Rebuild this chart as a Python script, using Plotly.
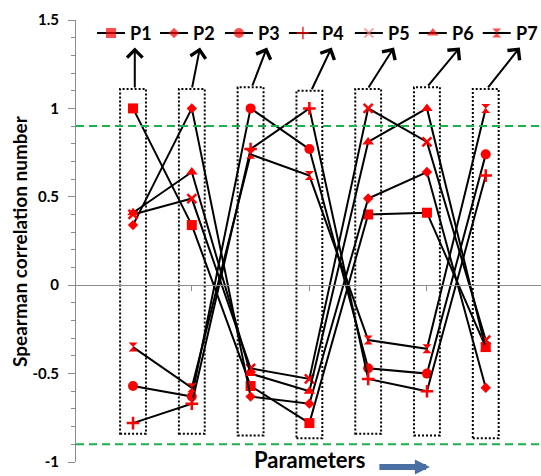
import plotly.graph_objects as go

# Parameter names and their positions on the horizontal axis
params = ["P1", "P2", "P3", "P4", "P5", "P6", "P7"]
positions = [1, 2, 3, 4, 5, 6, 7]

# Spearman correlation of each parameter with P1..P7
P1 = [1.00, 0.34, -0.57, -0.78, 0.40, 0.41, -0.35]
P2 = [0.34, 1.00, -0.63, -0.67, 0.49, 0.64, -0.58]
P3 = [-0.57, -0.63, 1.00, 0.77, -0.47, -0.50, 0.74]
P4 = [-0.78, -0.67, 0.77, 1.00, -0.53, -0.60, 0.62]
P5 = [0.40, 0.49, -0.47, -0.53, 1.00, 0.81, -0.31]
P6 = [0.41, 0.64, -0.50, -0.60, 0.81, 1.00, -0.36]
P7 = [-0.35, -0.58, 0.74, 0.62, -0.31, -0.36, 1.00]
series = [P1, P2, P3, P4, P5, P6, P7]

# Significance threshold lines
threshold = [0.9, -0.9]

# Y-axis ticks
y_tickvals = [-1, -0.5, 0, 0.5, 1, 1.5]
y_ticktext = ["-1", "-0.5", "0", "0.5", "1", "1.5"]

symbols = ["square", "diamond", "circle", "cross-thin", "x-thin", "triangle-up", "hourglass"]
sizes = [10, 8, 10, 9, 9, 10, 9]
RED = "#ff0000"

fig = go.Figure()
for name, vals, sym, sz in zip(params, series, symbols, sizes):
    thin = sym.endswith("-thin")
    fig.add_trace(go.Scatter(
        x=positions, y=vals, name=name, mode="lines+markers", showlegend=False,
        line=dict(color="black", width=2),
        marker=dict(symbol=sym, size=sz, color=RED,
                    line=dict(color=RED, width=2.5 if thin else 0)),
    ))

# Key row along the top: short line with the series marker, then the name
key_y = 1.4265
key_start = [0.388, 1.459, 2.564, 3.652, 4.774, 5.862, 6.949]   # left end of each key line
key_len = 0.476
key_gap = 0.05
annotations = []
for name, x0, sym, sz in zip(params, key_start, symbols, sizes):
    thin = sym.endswith("-thin")
    col = "#ff7a7a" if sym == "x-thin" else RED
    fig.add_trace(go.Scatter(
        x=[x0, x0 + key_len / 2, x0 + key_len], y=[key_y] * 3, mode="lines+markers",
        showlegend=False, hoverinfo="skip",
        line=dict(color="black", width=2),
        marker=dict(symbol=sym, size=[0, sz, 0], color=col,
                    line=dict(color=col, width=1.8 if thin else 0)),
    ))
    annotations.append(dict(x=x0 + key_len + key_gap, y=key_y, xref="x", yref="y",
                            text=f"<b>{name}</b>", showarrow=False, xanchor="left",
                            yanchor="middle", font=dict(size=18, color="black")))

shapes = []
# Dashed threshold lines
for t in threshold:
    shapes.append(dict(type="line", xref="paper", x0=0, x1=1, yref="y", y0=t, y1=t,
                       line=dict(color="#1db04b", width=2, dash="8px,5px")))

# Dotted frame around every parameter column
box_top = [1.11, 1.11, 1.12, 1.10, 1.11, 1.12, 1.11]
box_bot = [-0.84, -0.84, -0.85, -0.865, -0.84, -0.85, -0.865]
for p, top, bot in zip(positions, box_top, box_bot):
    shapes.append(dict(type="rect", xref="x", yref="y", x0=p - 0.22, x1=p + 0.22,
                       y0=bot, y1=top, line=dict(color="black", width=2, dash="2px,2px"),
                       fillcolor="rgba(0,0,0,0)", layer="below"))

# Arrows linking each column frame to its key label
arrow_tip_x = [1.03, 2.14, 3.28, 4.38, 5.44, 6.56, 7.58]
arrow_tail_x = [1.03, 2.0, 3.02, 4.03, 4.99, 6.0, 7.02]
for tx, sx, top in zip(arrow_tip_x, arrow_tail_x, box_top):
    annotations.append(dict(x=tx, y=1.345, xref="x", yref="y",
                            ax=sx, ay=top, axref="x", ayref="y",
                            text="", showarrow=True, arrowhead=4, arrowsize=1.5,
                            arrowwidth=2, arrowcolor="black", standoff=0, startstandoff=0))

# Axis titles
annotations.append(dict(x=-0.1226, y=0.5, xref="paper", yref="paper",
                        text="<b>Spearman correlation number</b>", textangle=-90,
                        showarrow=False, font=dict(size=19, color="black"),
                        xanchor="center", yanchor="middle"))
annotations.append(dict(x=0.502, y=-0.0295, xref="paper", yref="paper",
                        text="<b>Parameters</b>", showarrow=False,
                        font=dict(size=22, color="black"),
                        xanchor="center", yanchor="bottom"))
annotations.append(dict(x=0.761, y=-0.0113, xref="paper", yref="paper",
                        ax=-52, ay=0, text="", showarrow=True, arrowhead=2,
                        arrowsize=0.5, arrowwidth=6, arrowcolor="#4a6fa5",
                        standoff=0, startstandoff=0))

fig.update_layout(
    width=541, height=476,
    margin=dict(l=76, r=0, t=20, b=14),
    paper_bgcolor="white", plot_bgcolor="white",
    font=dict(family="Lato", color="black"),
    showlegend=False,
    xaxis=dict(range=[0.03, 7.94], anchor="free", position=0.4, showline=True,
               linecolor="#8c8c8c", linewidth=1, ticks="outside", ticklen=5,
               tickcolor="#8c8c8c", tickvals=[2, 4, 6], showticklabels=False,
               showgrid=False, zeroline=False),
    yaxis=dict(range=[-1, 1.5], tickvals=y_tickvals, ticktext=y_ticktext,
               showline=True, linecolor="#8c8c8c", linewidth=1, ticks="outside",
               ticklen=7, tickcolor="#8c8c8c", showgrid=False, zeroline=False,
               tickfont=dict(size=15, color="black", weight="bold"),
               ticklabelstandoff=6,
               minor=dict(dtick=0.1, ticks="outside", ticklen=4, tickcolor="#8c8c8c")),
    shapes=shapes,
    annotations=annotations,
)

fig.write_html("out.html")
